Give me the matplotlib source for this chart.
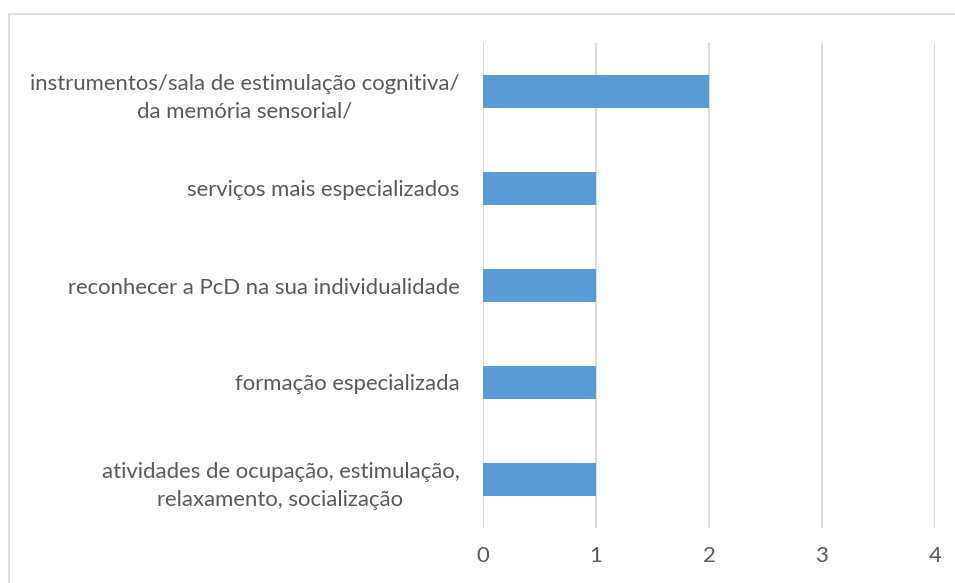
import matplotlib
matplotlib.use("Agg")
import matplotlib.pyplot as plt
from matplotlib.patches import Rectangle

categories = [
    "atividades de ocupação, estimulação,\nrelaxamento, socialização",
    "formação especializada",
    "reconhecer a PcD na sua individualidade",
    "serviços mais especializados",
    "instrumentos/sala de estimulação cognitiva/\nda memória sensorial/",
]
values = [1, 1, 1, 1, 2]
xticks = [0, 1, 2, 3, 4]

text_color = "#595959"
bar_color = "#5B9BD5"
grid_color = "#D9D9D9"

plt.rcParams["font.family"] = ["Lato", "DejaVu Sans"]

W, H = 955, 583
fig = plt.figure(figsize=(W / 100, H / 100), dpi=100)
ax = fig.add_axes([483 / W, 1 - 528 / H, (935 - 483) / W, (528 - 43) / H])

ypos = list(range(len(categories)))
ax.barh(ypos, values, height=0.34, color=bar_color, zorder=3)
ax.set_xlim(0, 4)
ax.set_ylim(-0.5, len(categories) - 0.5)
ax.set_xticks(xticks)
ax.set_xticklabels([str(t) for t in xticks])
ax.set_yticks(ypos)
ax.set_yticklabels(categories, multialignment="center", linespacing=1.5)

ax.grid(axis="x", color=grid_color, linewidth=1.3, zorder=0)
for s in ax.spines.values():
    s.set_visible(False)
ax.tick_params(axis="both", length=0, labelsize=15.9, colors=text_color)
ax.tick_params(axis="y", pad=17)
ax.tick_params(axis="x", pad=13)

# chart frame (only top and left edges visible in the crop)
fig.patches.append(Rectangle((9 / W, -0.1), 1.2, 1 - 14 / H + 0.1,
                             transform=fig.transFigure, fill=False,
                             edgecolor=grid_color, linewidth=1.2))

fig.savefig("out.png", dpi=100)
